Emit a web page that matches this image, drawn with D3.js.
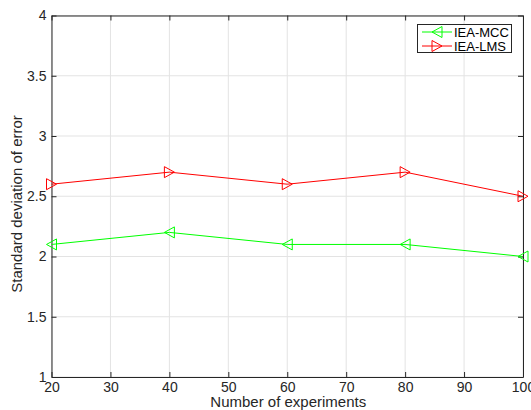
<!DOCTYPE html>
<html>
<head>
<meta charset="utf-8">
<script src="https://cdn.jsdelivr.net/npm/d3@7/dist/d3.min.js"></script>
<style>
  html, body { margin: 0; padding: 0; background: #fff; }
  svg { display: block; font-family: "Liberation Sans", Arial, Helvetica, sans-serif; }
</style>
</head>
<body>
<svg id="chart" width="531" height="410"></svg>
<script>
// Experiment counts and error spread for each estimator
const experiments = [20, 40, 60, 80, 100];
const mccValues = [2.1, 2.2, 2.1, 2.1, 2.0];
const lmsValues = [2.6, 2.7, 2.6, 2.7, 2.5];
const xTicks = [20, 30, 40, 50, 60, 70, 80, 90, 100];
const yTicks = [1, 1.5, 2, 2.5, 3, 3.5, 4];
const seriesNames = ["IEA-MCC", "IEA-LMS"];

const series = [
  { name: seriesNames[0], values: mccValues, color: "#00ff00", dir: "left" },
  { name: seriesNames[1], values: lmsValues, color: "#ff0000", dir: "right" }
];

const svg = d3.select("#chart");
const plotLeft = 51.5, plotRight = 523, plotTop = 15.5, plotBottom = 377;
const axisColor = "#262626";

const x = d3.scaleLinear().domain([20, 100]).range([plotLeft, plotRight]);
const y = d3.scaleLinear().domain([1, 4]).range([plotBottom, plotTop]);

// grid
const grid = svg.append("g");
grid.selectAll("line.vx").data(xTicks).enter().append("line")
  .attr("x1", d => x(d)).attr("x2", d => x(d))
  .attr("y1", plotTop).attr("y2", plotBottom)
  .attr("stroke", "#e3e3e3").attr("stroke-width", 1);
grid.selectAll("line.hy").data(yTicks).enter().append("line")
  .attr("x1", plotLeft).attr("x2", plotRight)
  .attr("y1", d => y(d)).attr("y2", d => y(d))
  .attr("stroke", "#e3e3e3").attr("stroke-width", 1);

// axes with inward ticks
const tickLen = 5;
const fmt = d => d3.format("~g")(d);
const xAxisB = svg.append("g").attr("transform", `translate(0,${plotBottom})`)
  .call(d3.axisBottom(x).tickValues(xTicks).tickFormat(fmt).tickSizeInner(-tickLen).tickSizeOuter(0).tickPadding(7));
const xAxisT = svg.append("g").attr("transform", `translate(0,${plotTop})`)
  .call(d3.axisTop(x).tickValues(xTicks).tickFormat("").tickSizeInner(-tickLen).tickSizeOuter(0));
const yAxisL = svg.append("g").attr("transform", `translate(${plotLeft},0)`)
  .call(d3.axisLeft(y).tickValues(yTicks).tickFormat(fmt).tickSizeInner(-tickLen).tickSizeOuter(0).tickPadding(5));
const yAxisR = svg.append("g").attr("transform", `translate(${plotRight},0)`)
  .call(d3.axisRight(y).tickValues(yTicks).tickFormat("").tickSizeInner(-tickLen).tickSizeOuter(0));

[xAxisB, xAxisT, yAxisL, yAxisR].forEach(g => {
  g.selectAll(".domain").attr("stroke", axisColor).attr("stroke-width", 1);
  g.selectAll(".tick line").attr("stroke", axisColor).attr("stroke-width", 1);
  g.selectAll("text").attr("fill", axisColor).attr("font-size", 14)
    .attr("font-family", "'Liberation Sans', Arial, sans-serif");
});
xAxisB.selectAll("text").attr("dy", "0.6em");

// triangle marker path, centred at origin
function tri(dir, w, h) {
  const hw = w / 2, hh = h / 2;
  return dir === "left"
    ? `M${-hw},0L${hw},${-hh}L${hw},${hh}Z`
    : `M${hw},0L${-hw},${-hh}L${-hw},${hh}Z`;
}

const line = d3.line().x(d => x(d[0])).y(d => y(d[1]));

series.forEach(s => {
  const pts = experiments.map((e, i) => [e, s.values[i]]);
  svg.append("path").datum(pts)
    .attr("d", line).attr("fill", "none")
    .attr("stroke", s.color).attr("stroke-width", 1);
  svg.append("g").selectAll("path").data(pts).enter().append("path")
    .attr("transform", d => `translate(${x(d[0])},${y(d[1])})`)
    .attr("d", tri(s.dir, 10, 11))
    .attr("fill", "none").attr("stroke", s.color).attr("stroke-width", 1);
});

// axis titles
svg.append("text")
  .attr("x", (plotLeft + plotRight) / 2 + 1).attr("y", 407)
  .attr("text-anchor", "middle").attr("font-size", 15).attr("fill", axisColor)
  .text("Number of experiments");
svg.append("text")
  .attr("transform", `translate(22,204) rotate(-90)`)
  .attr("text-anchor", "middle").attr("font-size", 15).attr("fill", axisColor)
  .text("Standard deviation of error");

// legend
const lg = svg.append("g");
lg.append("rect")
  .attr("x", 417.5).attr("y", 24.5).attr("width", 94).attr("height", 28)
  .attr("fill", "#fff").attr("stroke", axisColor).attr("stroke-width", 1);
series.forEach((s, i) => {
  const cy = 32 + i * 14;
  lg.append("line").attr("x1", 422).attr("x2", 452).attr("y1", cy).attr("y2", cy)
    .attr("stroke", s.color).attr("stroke-width", 1);
  lg.append("path").attr("transform", `translate(437,${cy})`)
    .attr("d", tri(s.dir, 10, 11))
    .attr("fill", "none").attr("stroke", s.color).attr("stroke-width", 1);
  lg.append("text").attr("x", 454).attr("y", cy + 5)
    .attr("font-size", 13).attr("fill", "#000").text(s.name);
});
</script>
</body>
</html>
